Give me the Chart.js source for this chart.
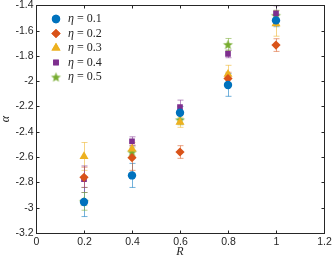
<!DOCTYPE html>
<html><head><meta charset="utf-8">
<script src="https://cdn.jsdelivr.net/npm/chart.js@4/dist/chart.umd.min.js"></script>
<style>html,body{margin:0;padding:0;background:#fff}#wrap{width:332px;height:260px}</style>
</head><body><div id="wrap"><canvas id="c" width="332" height="260"></canvas></div>
<script>
const R = [0.2, 0.4, 0.6, 0.8, 1.0];
const seriesLabels = ['0.1', '0.2', '0.3', '0.4', '0.5'];
const eta1 = [-2.955, -2.745, -2.25, -2.03, -1.52];
const eta2 = [-2.76, -2.605, -2.56, -1.98, -1.715];
const eta3 = [-2.595, -2.535, -2.325, -1.945, -1.545];
const eta4 = [-2.775, -2.475, -2.205, -1.785, -1.465];
const eta5 = [-2.95, -2.56, -2.305, -1.71, -1.48];
const err1 = [0.115, 0.095, 0.05, 0.09, 0.05];
const err2 = [0.08, 0.1, 0.05, 0.05, 0.05];
const err3 = [0.11, 0.05, 0.04, 0.07, 0.1];
const err4 = [0.105, 0.035, 0.055, 0.03, 0.06];
const err5 = [0.07, 0.04, 0.04, 0.047, 0.04];
const xTicks = [0, 0.2, 0.4, 0.6, 0.8, 1, 1.2];
const yTicks = [-1.4, -1.6, -1.8, -2, -2.2, -2.4, -2.6, -2.8, -3, -3.2];

const colors = ['#0072BD', '#D95319', '#EDB120', '#7E2F8E', '#77AC30'];
function starCanvas(color, r) {
  const s = Math.ceil(r * 2 + 2), c = document.createElement('canvas');
  c.width = s; c.height = s;
  const g = c.getContext('2d');
  g.beginPath();
  for (let i = 0; i < 10; i++) {
    const rad = i % 2 === 0 ? r : r * 0.42;
    const a = -Math.PI / 2 + i * Math.PI / 5;
    g.lineTo(s / 2 + rad * Math.cos(a), s / 2 + 0.5 + rad * Math.sin(a));
  }
  g.closePath(); g.fillStyle = color; g.fill();
  return c;
}
const styles = ['circle', 'rectRot', 'triangle', 'rect', starCanvas(colors[4], 5.2)];
const radii = [4.2, 4.6, 5.2, 4.0, 5.2];
const vals = [eta1, eta2, eta3, eta4, eta5];
const errs = [err1, err2, err3, err4, err5];

const datasets = vals.map((v, i) => ({
  label: 'η = ' + seriesLabels[i],
  data: R.map((x, j) => ({x: x, y: v[j]})),
  errs: errs[i],
  backgroundColor: colors[i], borderColor: colors[i], borderWidth: 0,
  pointStyle: styles[i], pointRadius: radii[i], pointHoverRadius: radii[i]
}));

const errPlugin = {
  id: 'err',
  beforeDatasetsDraw(chart) {
    const ctx = chart.ctx, xs = chart.scales.x, ys = chart.scales.y;
    ctx.save();
    chart.data.datasets.forEach((ds) => {
      ctx.strokeStyle = ds.borderColor; ctx.globalAlpha = 0.55; ctx.lineWidth = 1;
      ds.data.forEach((p, j) => {
        const e = ds.errs[j];
        const px = Math.round(xs.getPixelForValue(p.x)) + 0.5;
        const y1 = ys.getPixelForValue(p.y + e), y2 = ys.getPixelForValue(p.y - e);
        ctx.beginPath();
        ctx.moveTo(px, y1); ctx.lineTo(px, y2);
        ctx.moveTo(px - 3, y1); ctx.lineTo(px + 3, y1);
        ctx.moveTo(px - 3, y2); ctx.lineTo(px + 3, y2);
        ctx.stroke();
      });
    });
    ctx.restore();
  },
  afterDraw(chart) {
    const ctx = chart.ctx, xs = chart.scales.x, ys = chart.scales.y, a = chart.chartArea;
    ctx.save();
    ctx.strokeStyle = '#262626'; ctx.lineWidth = 1;
    const L = Math.round(a.left) + 0.5, Rr = Math.round(a.right) + 0.5, T = Math.round(a.top) + 0.5, B = Math.round(a.bottom) + 0.5;
    ctx.strokeRect(L, T, Rr - L, B - T);
    ctx.beginPath();
    ctx.fillStyle = '#262626';
    ctx.font = '10.5px "Liberation Sans", Arial, sans-serif';
    ctx.textAlign = 'center'; ctx.textBaseline = 'top';
    xTicks.forEach(t => {
      const px = Math.round(xs.getPixelForValue(t)) + 0.5;
      ctx.moveTo(px, B); ctx.lineTo(px, B - 3);
      ctx.moveTo(px, T); ctx.lineTo(px, T + 3);
      ctx.fillText(String(t), px, B + 3);
    });
    ctx.textAlign = 'right'; ctx.textBaseline = 'middle';
    yTicks.forEach(t => {
      const py = Math.round(ys.getPixelForValue(t)) + 0.5;
      ctx.moveTo(L, py); ctx.lineTo(L + 3, py);
      ctx.moveTo(Rr, py); ctx.lineTo(Rr - 3, py);
      ctx.fillText(String(t), L - 3, py);
    });
    ctx.stroke();
    // axis titles
    ctx.font = 'italic 12px "Liberation Serif", "DejaVu Serif", serif';
    ctx.textAlign = 'center'; ctx.textBaseline = 'middle';
    ctx.fillText('R', (a.left + a.right) / 2, 252);
    ctx.save(); ctx.translate(6, (a.top + a.bottom) / 2); ctx.rotate(-Math.PI / 2);
    ctx.fillText('α', 0, 0); ctx.restore();
    // legend
    chart.data.datasets.forEach((ds, i) => {
      const y = 19 + i * 14.5, mx = 56;
      if (typeof ds.pointStyle === 'string') {
        ctx.fillStyle = ds.backgroundColor;
        ctx.beginPath();
        Chart.helpers.drawPoint(ctx, {pointStyle: ds.pointStyle, radius: ds.pointRadius, borderWidth: 0, rotation: 0}, mx, y);
        ctx.fill();
      } else {
        Chart.helpers.drawPoint(ctx, {pointStyle: ds.pointStyle, radius: ds.pointRadius, borderWidth: 0, rotation: 0}, mx, y);
      }
      ctx.fillStyle = '#262626';
      ctx.textAlign = 'left';
      ctx.font = 'italic 12px "Liberation Serif", "DejaVu Serif", serif';
      ctx.fillText('η', 68, y);
      const w = ctx.measureText('η').width;
      ctx.font = '12px "Liberation Serif", "DejaVu Serif", serif';
      ctx.fillText(' = ' + seriesLabels[i], 68 + w, y);
    });
    ctx.restore();
  }
};

new Chart(document.getElementById('c'), {
  type: 'scatter',
  data: {datasets: datasets},
  options: {
    responsive: false, animation: false, devicePixelRatio: 1,
    layout: {padding: {top: 4, right: 8, left: 0, bottom: 0}},
    plugins: {legend: {display: false}, tooltip: {enabled: false}},
    scales: {
      x: {type: 'linear', min: 0, max: 1.2, grid: {display: false}, border: {display: false},
          ticks: {display: false}, afterFit(s) { s.height = 27; }},
      y: {type: 'linear', min: -3.2, max: -1.4, grid: {display: false}, border: {display: false},
          ticks: {display: false}, afterFit(s) { s.width = 36; }}
    }
  },
  plugins: [errPlugin]
});
</script></body></html>
